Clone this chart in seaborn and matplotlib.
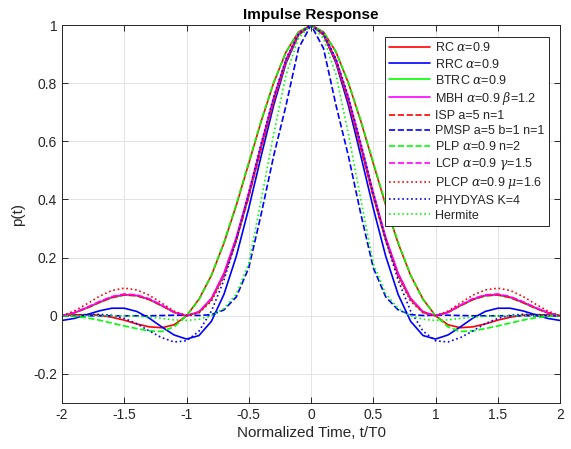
import numpy as np
import pandas as pd
import matplotlib
matplotlib.use("Agg")
import matplotlib.pyplot as plt
import seaborn as sns

# sample grid t/T0 from -2 to 2 in steps of 0.1
t = np.round(np.linspace(-2, 2, 41), 2)

rc = [0, 0.003, 0.004, 0.002, -0.005, -0.015, -0.028, -0.038, -0.041, -0.031, 0,
      0.057, 0.139, 0.249, 0.380, 0.524, 0.669, 0.801, 0.908, 0.976, 1,
      0.976, 0.908, 0.801, 0.669, 0.524, 0.380, 0.249, 0.139, 0.057, 0,
      -0.031, -0.041, -0.038, -0.028, -0.015, -0.005, 0.002, 0.004, 0.003, 0]
rrc = [-0.016, -0.009, 0.004, 0.017, 0.026, 0.026, 0.015, -0.008, -0.038, -0.066, -0.080,
       -0.068, -0.019, 0.073, 0.205, 0.370, 0.550, 0.724, 0.870, 0.966, 1,
       0.966, 0.870, 0.724, 0.550, 0.370, 0.205, 0.073, -0.019, -0.068, -0.080,
       -0.066, -0.038, -0.008, 0.015, 0.026, 0.026, 0.017, 0.004, -0.009, -0.016]
btrc = [0, 0.010, 0.026, 0.045, 0.062, 0.071, 0.069, 0.055, 0.034, 0.012, 0,
        0.011, 0.055, 0.139, 0.260, 0.412, 0.580, 0.742, 0.878, 0.968, 1,
        0.968, 0.878, 0.742, 0.580, 0.412, 0.260, 0.139, 0.055, 0.011, 0,
        0.012, 0.034, 0.055, 0.069, 0.071, 0.062, 0.045, 0.026, 0.010, 0]
mbh = [0, 0.011, 0.028, 0.047, 0.064, 0.073, 0.070, 0.057, 0.036, 0.012, 0,
       0.014, 0.060, 0.146, 0.270, 0.423, 0.590, 0.750, 0.882, 0.970, 1,
       0.970, 0.882, 0.750, 0.590, 0.423, 0.270, 0.146, 0.060, 0.014, 0,
       0.012, 0.036, 0.057, 0.070, 0.073, 0.064, 0.047, 0.028, 0.011, 0]
isp = [0, 0.010, 0.027, 0.046, 0.063, 0.072, 0.069, 0.056, 0.035, 0.012, 0,
       0.013, 0.057, 0.140, 0.261, 0.410, 0.576, 0.738, 0.875, 0.967, 1,
       0.967, 0.875, 0.738, 0.576, 0.410, 0.261, 0.140, 0.057, 0.013, 0,
       0.012, 0.035, 0.056, 0.069, 0.072, 0.063, 0.046, 0.027, 0.010, 0]
pmsp = [0, 0, 0, 0, 0, 0, 0, 0, 0.001, 0.002, 0.002,
        0.001, 0.004, 0.020, 0.065, 0.165, 0.350, 0.550, 0.725, 0.920, 1,
        0.920, 0.725, 0.550, 0.350, 0.165, 0.065, 0.020, 0.004, 0.001, 0.002,
        0.002, 0.001, 0, 0, 0, 0, 0, 0, 0, 0]
plp = [0, -0.002, -0.007, -0.015, -0.025, -0.035, -0.044, -0.052, -0.054, -0.038, 0,
       0.055, 0.140, 0.252, 0.384, 0.528, 0.672, 0.803, 0.908, 0.976, 1,
       0.976, 0.908, 0.803, 0.672, 0.528, 0.384, 0.252, 0.140, 0.055, 0,
       -0.038, -0.054, -0.052, -0.044, -0.035, -0.025, -0.015, -0.007, -0.002, 0]
lcp = [0, 0.011, 0.029, 0.049, 0.066, 0.075, 0.072, 0.059, 0.037, 0.013, 0,
       0.013, 0.058, 0.143, 0.266, 0.418, 0.585, 0.746, 0.880, 0.969, 1,
       0.969, 0.880, 0.746, 0.585, 0.418, 0.266, 0.143, 0.058, 0.013, 0,
       0.013, 0.037, 0.059, 0.072, 0.075, 0.066, 0.049, 0.029, 0.011, 0]
plcp = [0, 0.017, 0.041, 0.067, 0.087, 0.095, 0.089, 0.071, 0.044, 0.016, 0,
        0.010, 0.050, 0.134, 0.258, 0.412, 0.580, 0.742, 0.877, 0.968, 1,
        0.968, 0.877, 0.742, 0.580, 0.412, 0.258, 0.134, 0.050, 0.010, 0,
        0.016, 0.044, 0.071, 0.089, 0.095, 0.087, 0.067, 0.041, 0.017, 0]
phydyas = [0, 0.001, 0.004, 0.005, 0.002, -0.009, -0.027, -0.052, -0.075, -0.090, -0.086,
           -0.053, 0.016, 0.122, 0.261, 0.423, 0.593, 0.753, 0.884, 0.970, 1,
           0.970, 0.884, 0.753, 0.593, 0.423, 0.261, 0.122, 0.016, -0.053, -0.086,
           -0.090, -0.075, -0.052, -0.027, -0.009, 0.002, 0.005, 0.004, 0.001, 0]
hermite = [0, 0, 0, 0, 0, 0, -0.002, -0.005, -0.009, -0.014, -0.016,
           -0.012, 0.000, 0.025, 0.075, 0.180, 0.400, 0.625, 0.830, 0.955, 1,
           0.955, 0.830, 0.625, 0.400, 0.180, 0.075, 0.025, 0.000, -0.012, -0.016,
           -0.014, -0.009, -0.005, -0.002, 0, 0, 0, 0, 0, 0]

labels = [r"RC $\alpha$=0.9", r"RRC $\alpha$=0.9", r"BTRC $\alpha$=0.9",
          r"MBH $\alpha$=0.9 $\beta$=1.2", "ISP a=5 n=1", "PMSP a=5 b=1 n=1",
          r"PLP $\alpha$=0.9 n=2", r"LCP $\alpha$=0.9 $\gamma$=1.5",
          r"PLCP $\alpha$=0.9 $\mu$=1.6", "PHYDYAS K=4", "Hermite"]
series = [rc, rrc, btrc, mbh, isp, pmsp, plp, lcp, plcp, phydyas, hermite]
colors = ["#ff0000", "#0000ff", "#00ff00", "#ff00ff", "#ff0000", "#0000ff",
          "#00ff00", "#ff00ff", "#ff0000", "#0000ff", "#00ff00"]
styles = ["-", "-", "-", "-", "--", "--", "--", "--", ":", ":", ":"]

sns.set_style("ticks")
plt.rcParams["font.family"] = ["Liberation Sans", "DejaVu Sans"]
plt.rcParams["mathtext.fontset"] = "dejavuserif"
plt.rcParams["xtick.direction"] = "in"
plt.rcParams["ytick.direction"] = "in"

fig = plt.figure(figsize=(5.71, 4.49), dpi=100)
ax = fig.add_axes([0.1086, 0.1024, 0.8722, 0.8419])

for vals, lab, col, ls in zip(series, labels, colors, styles):
    df = pd.DataFrame({"t": t, "p": vals})
    sns.lineplot(data=df, x="t", y="p", ax=ax, color=col, linestyle=ls,
                 linewidth=1.2, label=lab, estimator=None)

ax.set_xlim(-2, 2)
ax.set_ylim(-0.3, 1)
ax.set_xticks(np.arange(-2, 2.01, 0.5))
ax.set_xticklabels(["-2", "-1.5", "-1", "-0.5", "0", "0.5", "1", "1.5", "2"])
ax.set_yticks([-0.2, 0, 0.2, 0.4, 0.6, 0.8, 1])
ax.set_yticklabels(["-0.2", "0", "0.2", "0.4", "0.6", "0.8", "1"])
ax.grid(True, color="#e3e3e3", linewidth=0.7)
ax.set_axisbelow(True)
dark = "#262626"
for s in ax.spines.values():
    s.set_color(dark)
    s.set_linewidth(0.7)
ax.tick_params(axis="both", colors=dark, labelsize=10, length=4, width=0.7,
               top=True, right=True, labelcolor=dark)
ax.set_title("Impulse Response", fontsize=11, fontweight="bold", pad=4, color="black")
ax.set_xlabel("Normalized Time, t/T0", fontsize=11, color=dark, labelpad=3)
ax.set_ylabel("p(t)", fontsize=11, color=dark, labelpad=6)

leg = ax.legend(loc="upper right", bbox_to_anchor=(0.978, 0.968), borderaxespad=0,
                fontsize=9, handlelength=3.3, labelspacing=0.25, handletextpad=0.4,
                borderpad=0.35, fancybox=False, framealpha=1, edgecolor=dark)
leg.get_frame().set_linewidth(0.7)

fig.savefig("out.png", dpi=100)
